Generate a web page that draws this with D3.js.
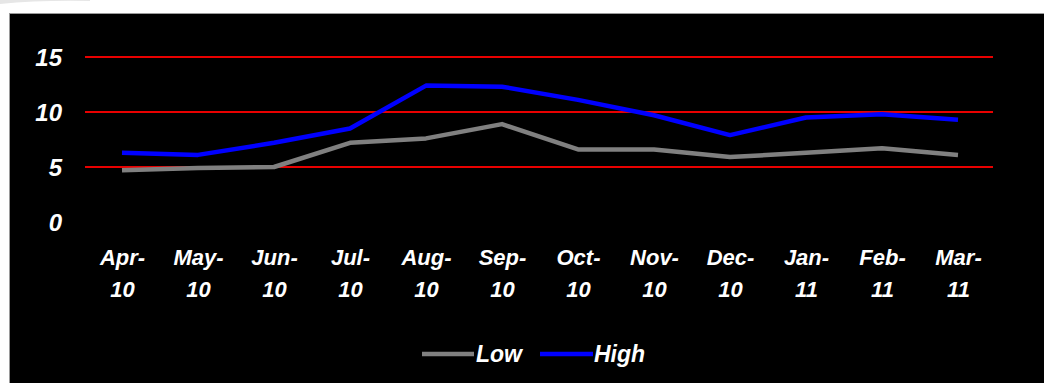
<!DOCTYPE html>
<html>
<head>
<meta charset="utf-8">
<script src="https://cdn.jsdelivr.net/npm/d3@7"></script>
<style>
  html, body { margin: 0; padding: 0; background: #ffffff; }
  svg { display: block; }
  text { font-family: Arial, "Liberation Sans", sans-serif; font-weight: bold; font-style: italic; fill: #ffffff; }
</style>
</head>
<body>
<svg id="chart" width="1044" height="383"></svg>
<script>
const months = ["Apr-10","May-10","Jun-10","Jul-10","Aug-10","Sep-10","Oct-10","Nov-10","Dec-10","Jan-11","Feb-11","Mar-11"];
const lowValues  = [4.7, 4.9, 5.0, 7.2, 7.6, 8.9, 6.6, 6.6, 5.9, 6.3, 6.7, 6.1];
const highValues = [6.3, 6.1, 7.2, 8.5, 12.4, 12.3, 11.1, 9.7, 7.9, 9.5, 9.8, 9.3];
const yTicks = [0, 5, 10, 15];
const seriesNames = ["Low", "High"];
const seriesColors = ["#808080", "#0000ff"];

const svg = d3.select("#chart");

// faint decoration top-left
svg.append("path")
  .attr("d", "M0,4 Q40,0 90,1 L90,0 L0,0 Z")
  .attr("fill", "#e6e6e6");

// black panel
svg.append("rect")
  .attr("x", 9.5).attr("y", 13.5)
  .attr("width", 1040).attr("height", 375)
  .attr("fill", "#000000")
  .attr("stroke", "#9a9a9a").attr("stroke-width", 1);

const x = d3.scalePoint().domain(months).range([122, 958]);
const y = d3.scaleLinear().domain([0, 15]).range([222, 57]);

// gridlines (red), except at zero
svg.append("g").selectAll("line")
  .data(yTicks.filter(d => d > 0))
  .join("line")
  .attr("x1", 85).attr("x2", 993)
  .attr("y1", d => y(d)).attr("y2", d => y(d))
  .attr("stroke", "#e80000").attr("stroke-width", 2);

// y axis labels
const yAxis = d3.axisLeft(y).tickValues(yTicks).tickSize(0).tickPadding(0);
const gy = svg.append("g").attr("transform", "translate(62,0)").call(yAxis);
gy.select(".domain").remove();
gy.selectAll("text")
  .attr("font-size", 24)
  .attr("fill", "#ffffff")
  .style("font-family", "Arial, 'Liberation Sans', sans-serif")
  .style("font-weight", "bold").style("font-style", "italic")
  .attr("dy", "0.36em");

// x axis labels (two lines)
const xAxis = d3.axisBottom(x).tickSize(0).tickFormat("");
const gx = svg.append("g").attr("transform", "translate(0,240)").call(xAxis);
gx.select(".domain").remove();
gx.selectAll(".tick text").remove();
gx.selectAll(".tick").each(function(d) {
  const parts = d.split("-");
  const g = d3.select(this);
  [parts[0] + "-", parts[1]].forEach((s, i) => {
    g.append("text")
      .attr("x", 0).attr("y", 25 + i * 32)
      .attr("text-anchor", "middle")
      .attr("font-size", 22)
      .attr("fill", "#ffffff")
      .style("font-family", "Arial, 'Liberation Sans', sans-serif")
      .style("font-weight", "bold").style("font-style", "italic")
      .text(s);
  });
});

// lines
const line = d3.line()
  .x((d, i) => x(months[i]))
  .y(d => y(d))
  .curve(d3.curveLinear);

[lowValues, highValues].forEach((vals, k) => {
  svg.append("path")
    .datum(vals)
    .attr("d", line)
    .attr("fill", "none")
    .attr("stroke", seriesColors[k])
    .attr("stroke-width", 4.5)
    .attr("stroke-linejoin", "round");
});

// legend
const legendItems = [
  { name: seriesNames[0], color: seriesColors[0], x1: 422, x2: 474, tx: 476 },
  { name: seriesNames[1], color: seriesColors[1], x1: 540, x2: 593, tx: 594 }
];
const lg = svg.append("g");
legendItems.forEach(it => {
  lg.append("line")
    .attr("x1", it.x1).attr("x2", it.x2)
    .attr("y1", 354).attr("y2", 354)
    .attr("stroke", it.color).attr("stroke-width", 4.5);
  lg.append("text")
    .attr("x", it.tx).attr("y", 362)
    .attr("font-size", 23)
    .text(it.name);
});
</script>
</body>
</html>
